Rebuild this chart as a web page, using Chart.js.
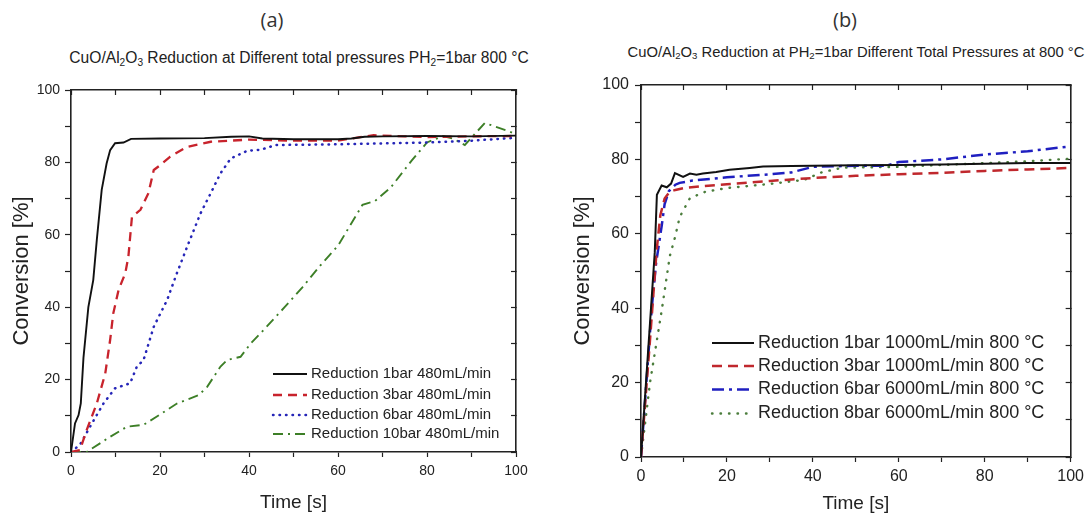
<!DOCTYPE html>
<html>
<head>
<meta charset="utf-8">
<script src="https://cdn.jsdelivr.net/npm/chart.js@4"></script>
<style>
  body { margin: 0; background: #fff; width: 1089px; height: 515px; position: relative; overflow: hidden;
         font-family: "Liberation Sans", Arial, sans-serif; color: #222; }
  canvas { position: absolute; top: 0; }
  .lbl { position: absolute; transform: translate(-50%, -50%); white-space: nowrap; }
  .panel { font-family: "Open Sans", sans-serif; font-size: 20px; color: #333; }
  sub { font-size: 0.65em; vertical-align: -0.25em; line-height: 0; }
</style>
</head>
<body>
<div class="lbl panel" style="left:272px;top:19px">(a)</div>
<div class="lbl panel" style="left:845px;top:19px">(b)</div>
<div class="lbl" style="left:299px;top:58px;font-size:15.6px">CuO/Al<sub>2</sub>O<sub>3</sub> Reduction at Different total pressures PH<sub>2</sub>=1bar 800 °C</div>
<div class="lbl" style="left:856px;top:52px;font-size:14.8px">CuO/Al<sub>2</sub>O<sub>3</sub> Reduction at PH<sub>2</sub>=1bar Different Total Pressures at 800 °C</div>
<canvas id="chartA" width="545" height="515" style="left:0"></canvas>
<canvas id="chartB" width="544" height="515" style="left:545px"></canvas>
<script>
// (a) 480 mL/min, different total pressures
const timeA1 = [0, 0.9, 1.7, 2.2, 2.8, 3.9, 5.0, 5.8, 6.9, 8.0, 8.8, 9.9, 11.8, 13.5, 20, 30, 36, 40, 43, 50, 60, 63, 66, 70, 80, 90, 100];
const convA1 = [0, 7.9, 10.2, 13.4, 26, 40, 47.5, 58.6, 72.4, 79.7, 83.4, 85.3, 85.5, 86.5, 86.6, 86.7, 87.1, 87.2, 86.6, 86.4, 86.4, 86.6, 87.1, 87.2, 87.3, 87.2, 87.4];
const timeA3 = [0, 2, 3.5, 5.8, 7.7, 8.8, 9.5, 10.7, 12.2, 12.9, 13.7, 15.6, 17.4, 18.6, 20.1, 22.3, 26.1, 31.4, 40, 50, 60, 64, 68, 75, 80, 90, 100];
const convA3 = [0, 0.5, 6, 13.4, 21.7, 31, 38.3, 44.8, 49.4, 54, 65, 66.9, 71.5, 77.9, 79.3, 81.6, 84.3, 85.7, 86.3, 86, 86, 86.8, 87.5, 87.2, 87, 87.2, 87.3];
const timeA6 = [0, 2, 4.7, 7.3, 9.9, 13.3, 14.8, 16.3, 18.6, 21.6, 23.8, 26.1, 29.1, 31.4, 33.6, 35.9, 39.6, 42.6, 46, 60, 80, 90, 100];
const convA6 = [0, 2, 7.9, 13.4, 17.6, 19, 23.6, 25.4, 34.6, 42, 49.4, 56.7, 65.9, 71.5, 77, 81.1, 83.2, 83.5, 84.8, 85, 85.5, 86, 86.8];
const timeA10 = [0, 3.5, 8.8, 12.6, 16.3, 19.3, 23.8, 28.7, 30.6, 33.6, 35.1, 38.1, 40.4, 42.6, 48, 52, 56, 60, 62.4, 65.5, 68.3, 71.8, 76.5, 80, 83.6, 86, 88.5, 93, 98.6, 100];
const convA10 = [0, 0, 4.2, 7, 7.5, 9.8, 13.4, 15.7, 18, 23.6, 25.4, 26.3, 30, 32.8, 40, 45.5, 51.5, 57, 61.9, 68.3, 69.3, 73, 80.4, 85.5, 87.3, 86.5, 84.8, 90.9, 88.5, 87.8];
const labelsA = ['Reduction 1bar 480mL/min', 'Reduction 3bar 480mL/min', 'Reduction 6bar 480mL/min', 'Reduction 10bar 480mL/min'];

// (b) PH2 = 1bar, different total pressures
const timeB1 = [0, 3.2, 3.7, 4.8, 6.0, 7.0, 7.9, 9.8, 11.4, 12.9, 14.4, 17.5, 20.6, 25.3, 28.4, 35, 40, 50, 60, 70, 80, 90, 100];
const convB1 = [0, 55, 70.5, 73, 72.5, 73.5, 76.3, 75.3, 76.2, 75.9, 76.2, 76.6, 77.2, 77.7, 78.1, 78.2, 78.3, 78.4, 78.5, 78.6, 78.8, 79, 79];
const timeB3 = [0, 2, 3.6, 4.5, 5.5, 6.7, 8, 10, 14, 20, 30, 40, 50, 60, 70, 80, 90, 100];
const convB3 = [0, 30, 55, 65, 69.5, 71.3, 71.8, 72.3, 72.8, 73.3, 74.2, 75, 75.6, 76, 76.4, 76.9, 77.3, 77.7];
const timeB6 = [0, 2.5, 3.5, 4.8, 5.5, 6.5, 8, 9, 12, 20, 30, 35, 40, 50, 57, 60, 70, 80, 90, 100];
const convB6 = [0, 40, 52, 62, 68, 71.5, 73.2, 73.7, 74.3, 75.2, 76, 76.5, 78, 78.3, 78.3, 79.3, 80, 81.3, 82.2, 83.5];
const timeB8 = [0, 2.1, 3.5, 4.9, 5.8, 6.7, 7.9, 9, 11.4, 15, 20, 30, 38, 42, 47, 60, 70, 80, 90, 100];
const convB8 = [0, 20, 30, 40, 47, 54, 59, 64.5, 69.6, 71.3, 72.3, 73.4, 74.5, 76.5, 77.8, 78, 78.5, 79, 79.5, 80.2];
const labelsB = ['Reduction 1bar 1000mL/min 800 °C', 'Reduction 3bar 1000mL/min 800 °C', 'Reduction 6bar 6000mL/min 800 °C', 'Reduction 8bar 6000mL/min 800 °C'];

const FONT = 'Liberation Sans';
const INK = '#222';

function pts(t, v) {
  return t.map((x, i) => ({ x: x, y: v[i] }));
}

function line(label, t, v, color, width, dash, cap) {
  return {
    label: label, data: pts(t, v), borderColor: color, backgroundColor: color,
    borderWidth: width, borderDash: dash, borderCapStyle: cap || 'butt',
    pointRadius: 0, tension: 0, fill: false
  };
}

// legend drawn inside the plot area
const insideLegend = {
  id: 'insideLegend',
  afterDraw(chart, args, opts) {
    const ctx = chart.ctx;
    ctx.save();
    ctx.font = opts.size + 'px "' + FONT + '"';
    ctx.textBaseline = 'middle';
    chart.data.datasets.forEach((ds, i) => {
      const y = opts.rows[i];
      ctx.strokeStyle = ds.borderColor;
      ctx.lineWidth = ds.borderWidth;
      ctx.lineCap = ds.borderCapStyle;
      ctx.setLineDash(ds.borderDash);
      ctx.beginPath();
      ctx.moveTo(opts.x0, y);
      ctx.lineTo(opts.x1, y);
      ctx.stroke();
      ctx.setLineDash([]);
      ctx.fillStyle = INK;
      ctx.fillText(ds.label, opts.x1 + opts.gap, y);
    });
    ctx.restore();
  }
};

function scales(p) {
  const tickFont = { family: FONT, size: p.tickSize };
  const mirror = (pos) => ({
    type: 'linear', position: pos, min: 0, max: 100,
    ticks: { display: false, stepSize: 10 },
    grid: { drawOnChartArea: false, tickLength: -5, color: INK, tickWidth: 1.2 },
    border: { color: INK, width: 1.6 },
    afterFit: s => { if (pos === 'top') s.height = 0; else s.width = 0; }
  });
  return {
    x: {
      type: 'linear', position: 'bottom', min: 0, max: 100,
      ticks: { stepSize: 10, autoSkip: false, maxRotation: 0, color: INK, font: tickFont, padding: p.xPad,
               callback: v => (v % 20 === 0 ? v : '') },
      grid: { drawOnChartArea: false, tickLength: 5, color: INK, tickWidth: 1.2 },
      border: { color: INK, width: 1.6 },
      title: { display: true, text: 'Time [s]', color: INK, font: { family: FONT, size: 19 },
               padding: { top: 0, bottom: p.xTitlePad } },
      afterFit: s => { s.height = p.xHeight; }
    },
    y: {
      type: 'linear', position: 'left', min: 0, max: 100,
      ticks: { stepSize: 10, autoSkip: false, color: INK, font: tickFont, padding: p.yPad,
               callback: v => (v % 20 === 0 ? v : '') },
      grid: { drawOnChartArea: false, tickLength: 6, color: INK, tickWidth: 1.2 },
      border: { color: INK, width: 1.6 },
      title: { display: true, text: 'Conversion [%]', color: INK, font: { family: FONT, size: 22 },
               padding: { top: p.yTitlePad, bottom: 0 } },
      afterFit: s => { s.width = p.yWidth; }
    },
    x2: mirror('top'),
    y2: mirror('right')
  };
}

function makeChart(id, datasets, p, legend) {
  return new Chart(document.getElementById(id), {
    type: 'line',
    data: { datasets: datasets },
    plugins: [insideLegend],
    options: {
      responsive: false,
      animation: false,
      devicePixelRatio: 1,
      layout: { padding: p.padding, autoPadding: false },
      plugins: { legend: { display: false }, tooltip: { enabled: false }, title: { display: false },
                 insideLegend: legend },
      scales: scales(p)
    }
  });
}

makeChart('chartA', [
  line(labelsA[0], timeA1, convA1, '#111111', 1.9, []),
  line(labelsA[1], timeA3, convA3, '#c8232c', 2.3, [9, 6]),
  line(labelsA[2], timeA6, convA6, '#2626b8', 2.5, [0.5, 6], 'round'),
  line(labelsA[3], timeA10, convA10, '#3d7f27', 1.9, [10, 5, 2, 5])
], {
  padding: { left: 0, top: 90, right: 29, bottom: 0 },
  tickSize: 14, xPad: 6, yPad: 5, xHeight: 63, yWidth: 71, xTitlePad: 1, yTitlePad: 9
}, { x0: 273, x1: 307, gap: 4, size: 15, rows: [374, 395, 415, 434] });

makeChart('chartB', [
  line(labelsB[0], timeB1, convB1, '#111111', 2, []),
  line(labelsB[1], timeB3, convB3, '#c0282d', 2.5, [10, 6]),
  line(labelsB[2], timeB6, convB6, '#1f1fc0', 2.5, [12, 5, 3, 5]),
  line(labelsB[3], timeB8, convB8, '#4b7d3c', 2.4, [0.5, 8], 'round')
], {
  padding: { left: 0, top: 85, right: 9, bottom: 0 },
  tickSize: 16, xPad: 5, yPad: 6, xHeight: 58, yWidth: 96, xTitlePad: 0, yTitlePad: 25
}, { x0: 167, x1: 209, gap: 4, size: 18, rows: [343, 366, 389.5, 413.5] });
</script>
</body>
</html>
